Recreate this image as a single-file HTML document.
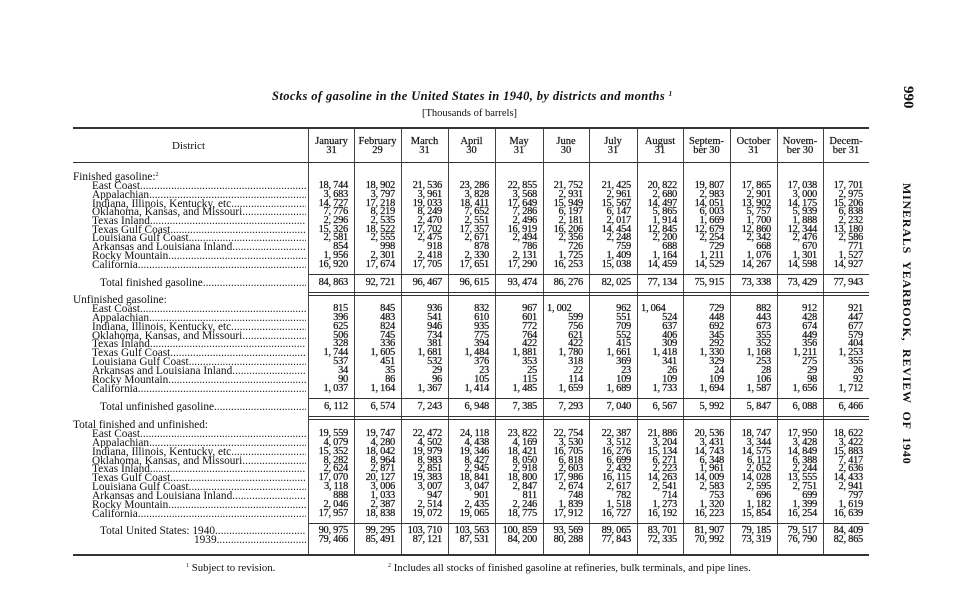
<!DOCTYPE html>
<html><head><meta charset="utf-8"><style>
body{margin:0;width:956px;height:600px;background:#fff;position:relative;overflow:hidden;font-family:"Liberation Serif",serif;color:#111;font-size:10px}
.a{position:absolute;white-space:nowrap}
sup{line-height:0;vertical-align:0;position:relative;top:-4px}
.r{position:absolute;left:309px;height:10px;line-height:10px;display:grid;grid-template-columns:45px 47px 47px 47px 48px 46px 48px 46px 47px 47px 46px 46px;font-size:10.5px;letter-spacing:-0.3px;-webkit-text-stroke:0.2px #111}
.r i{font-style:normal;text-align:right;padding-right:6px}
.lb{position:absolute;left:92px;width:214px;overflow:hidden;white-space:nowrap;height:10px;line-height:10px;font-size:11.3px;letter-spacing:0px}
.h{position:absolute;left:73px;height:10px;line-height:10px;font-size:11.3px}
.v{position:absolute;width:1px;background:#444}
.hl{position:absolute;left:73px;width:796px;background:#333}
.ch{position:absolute;top:137px;text-align:center;font-size:10.5px;line-height:9px;-webkit-text-stroke:0.2px #111}
</style></head><body>
<div class="a" style="left:272px;top:89px;font-style:italic;font-weight:bold;font-size:12.5px;letter-spacing:0.4px">Stocks of gasoline in the United States in 1940, by districts and months <sup style="font-size:7px">1</sup></div>
<div class="a" style="left:422px;top:108px;font-size:10.5px">[Thousands of barrels]</div>
<div class="a" style="top:86px;font-size:15px;font-weight:bold;transform:rotate(90deg);transform-origin:left top;left:916px">990</div>
<div class="a" style="left:914px;top:183px;font-size:12px;font-weight:bold;letter-spacing:0.8px;transform:rotate(90deg);transform-origin:left top">MINERALS&nbsp; YEARBOOK,&nbsp; REVIEW&nbsp; OF&nbsp; 1940</div>
<div class="hl" style="top:127px;height:2px"></div>
<div class="hl" style="top:162px;height:1px"></div>
<div class="hl" style="top:554px;height:2px"></div>
<div class="v" style="left:308px;top:129px;height:425px"></div>
<div class="v" style="left:354px;top:129px;height:425px"></div>
<div class="v" style="left:401px;top:129px;height:425px"></div>
<div class="v" style="left:448px;top:129px;height:425px"></div>
<div class="v" style="left:495px;top:129px;height:425px"></div>
<div class="v" style="left:543px;top:129px;height:425px"></div>
<div class="v" style="left:589px;top:129px;height:425px"></div>
<div class="v" style="left:637px;top:129px;height:425px"></div>
<div class="v" style="left:683px;top:129px;height:425px"></div>
<div class="v" style="left:730px;top:129px;height:425px"></div>
<div class="v" style="left:777px;top:129px;height:425px"></div>
<div class="v" style="left:823px;top:129px;height:425px"></div>
<div class="hl" style="left:309px;width:560px;top:274px;height:1px"></div>
<div class="hl" style="left:309px;width:560px;top:292px;height:1px"></div>
<div class="hl" style="left:309px;width:560px;top:295px;height:1px"></div>
<div class="hl" style="left:309px;width:560px;top:398px;height:1px"></div>
<div class="hl" style="left:309px;width:560px;top:416px;height:1px"></div>
<div class="hl" style="left:309px;width:560px;top:419px;height:1px"></div>
<div class="hl" style="left:309px;width:560px;top:523px;height:1px"></div>
<div class="a" style="left:172px;top:140px;font-size:11px">District</div>
<div class="ch" style="left:309px;width:45px">January<br>31</div>
<div class="ch" style="left:354px;width:47px">February<br>29</div>
<div class="ch" style="left:401px;width:47px">March<br>31</div>
<div class="ch" style="left:448px;width:47px">April<br>30</div>
<div class="ch" style="left:495px;width:48px">May<br>31</div>
<div class="ch" style="left:543px;width:46px">June<br>30</div>
<div class="ch" style="left:589px;width:48px">July<br>31</div>
<div class="ch" style="left:637px;width:46px">August<br>31</div>
<div class="ch" style="left:683px;width:47px">Septem-<br>ber 30</div>
<div class="ch" style="left:730px;width:47px">October<br>31</div>
<div class="ch" style="left:777px;width:46px">Novem-<br>ber 30</div>
<div class="ch" style="left:823px;width:46px">Decem-<br>ber 31</div>

<div class="h" style="top:172px">Finished gasoline:<sup style="font-size:6px">2</sup></div>
<div class="lb" style="top:181px">East Coast......................................................................................................</div>
<div class="r" style="top:181px"><i>18, 744</i><i>18, 902</i><i>21, 536</i><i>23, 286</i><i>22, 855</i><i>21, 752</i><i>21, 425</i><i>20, 822</i><i>19, 807</i><i>17, 865</i><i>17, 038</i><i>17, 701</i></div>
<div class="lb" style="top:190px">Appalachian......................................................................................................</div>
<div class="r" style="top:190px"><i>3, 683</i><i>3, 797</i><i>3, 961</i><i>3, 828</i><i>3, 568</i><i>2, 931</i><i>2, 961</i><i>2, 680</i><i>2, 983</i><i>2, 901</i><i>3, 000</i><i>2, 975</i></div>
<div class="lb" style="top:199px">Indiana, Illinois, Kentucky, etc......................................................................................................</div>
<div class="r" style="top:199px"><i>14, 727</i><i>17, 218</i><i>19, 033</i><i>18, 411</i><i>17, 649</i><i>15, 949</i><i>15, 567</i><i>14, 497</i><i>14, 051</i><i>13, 902</i><i>14, 175</i><i>15, 206</i></div>
<div class="lb" style="top:207px">Oklahoma, Kansas, and Missouri......................................................................................................</div>
<div class="r" style="top:207px"><i>7, 776</i><i>8, 219</i><i>8, 249</i><i>7, 652</i><i>7, 286</i><i>6, 197</i><i>6, 147</i><i>5, 865</i><i>6, 003</i><i>5, 757</i><i>5, 939</i><i>6, 838</i></div>
<div class="lb" style="top:216px">Texas Inland......................................................................................................</div>
<div class="r" style="top:216px"><i>2, 296</i><i>2, 535</i><i>2, 470</i><i>2, 551</i><i>2, 496</i><i>2, 181</i><i>2, 017</i><i>1, 914</i><i>1, 669</i><i>1, 700</i><i>1, 888</i><i>2, 232</i></div>
<div class="lb" style="top:225px">Texas Gulf Coast......................................................................................................</div>
<div class="r" style="top:225px"><i>15, 326</i><i>18, 522</i><i>17, 702</i><i>17, 357</i><i>16, 919</i><i>16, 206</i><i>14, 454</i><i>12, 845</i><i>12, 679</i><i>12, 860</i><i>12, 344</i><i>13, 180</i></div>
<div class="lb" style="top:233px">Louisiana Gulf Coast......................................................................................................</div>
<div class="r" style="top:233px"><i>2, 581</i><i>2, 555</i><i>2, 475</i><i>2, 671</i><i>2, 494</i><i>2, 356</i><i>2, 248</i><i>2, 200</i><i>2, 254</i><i>2, 342</i><i>2, 476</i><i>2, 586</i></div>
<div class="lb" style="top:242px">Arkansas and Louisiana Inland......................................................................................................</div>
<div class="r" style="top:242px"><i>854</i><i>998</i><i>918</i><i>878</i><i>786</i><i>726</i><i>759</i><i>688</i><i>729</i><i>668</i><i>670</i><i>771</i></div>
<div class="lb" style="top:251px">Rocky Mountain......................................................................................................</div>
<div class="r" style="top:251px"><i>1, 956</i><i>2, 301</i><i>2, 418</i><i>2, 330</i><i>2, 131</i><i>1, 725</i><i>1, 409</i><i>1, 164</i><i>1, 211</i><i>1, 076</i><i>1, 301</i><i>1, 527</i></div>
<div class="lb" style="top:260px">California......................................................................................................</div>
<div class="r" style="top:260px"><i>16, 920</i><i>17, 674</i><i>17, 705</i><i>17, 651</i><i>17, 290</i><i>16, 253</i><i>15, 038</i><i>14, 459</i><i>14, 529</i><i>14, 267</i><i>14, 598</i><i>14, 927</i></div>
<div class="lb" style="top:278px;left:100px;width:206px">Total finished gasoline......................................................................................................</div>
<div class="r" style="top:278px"><i>84, 863</i><i>92, 721</i><i>96, 467</i><i>96, 615</i><i>93, 474</i><i>86, 276</i><i>82, 025</i><i>77, 134</i><i>75, 915</i><i>73, 338</i><i>73, 429</i><i>77, 943</i></div>

<div class="h" style="top:295px">Unfinished gasoline:</div>
<div class="lb" style="top:304px">East Coast......................................................................................................</div>
<div class="r" style="top:304px"><i>815</i><i>845</i><i>936</i><i>832</i><i>967</i><i style="text-align:left;padding-left:4px">1, 002</i><i>962</i><i style="text-align:left;padding-left:4px">1, 064</i><i>729</i><i>882</i><i>912</i><i>921</i></div>
<div class="lb" style="top:313px">Appalachian......................................................................................................</div>
<div class="r" style="top:313px"><i>396</i><i>483</i><i>541</i><i>610</i><i>601</i><i>599</i><i>551</i><i>524</i><i>448</i><i>443</i><i>428</i><i>447</i></div>
<div class="lb" style="top:322px">Indiana, Illinois, Kentucky, etc......................................................................................................</div>
<div class="r" style="top:322px"><i>625</i><i>824</i><i>946</i><i>935</i><i>772</i><i>756</i><i>709</i><i>637</i><i>692</i><i>673</i><i>674</i><i>677</i></div>
<div class="lb" style="top:331px">Oklahoma, Kansas, and Missouri......................................................................................................</div>
<div class="r" style="top:331px"><i>506</i><i>745</i><i>734</i><i>775</i><i>764</i><i>621</i><i>552</i><i>406</i><i>345</i><i>355</i><i>449</i><i>579</i></div>
<div class="lb" style="top:339px">Texas Inland......................................................................................................</div>
<div class="r" style="top:339px"><i>328</i><i>336</i><i>381</i><i>394</i><i>422</i><i>422</i><i>415</i><i>309</i><i>292</i><i>352</i><i>356</i><i>404</i></div>
<div class="lb" style="top:348px">Texas Gulf Coast......................................................................................................</div>
<div class="r" style="top:348px"><i>1, 744</i><i>1, 605</i><i>1, 681</i><i>1, 484</i><i>1, 881</i><i>1, 780</i><i>1, 661</i><i>1, 418</i><i>1, 330</i><i>1, 168</i><i>1, 211</i><i>1, 253</i></div>
<div class="lb" style="top:357px">Louisiana Gulf Coast......................................................................................................</div>
<div class="r" style="top:357px"><i>537</i><i>451</i><i>532</i><i>376</i><i>353</i><i>318</i><i>369</i><i>341</i><i>329</i><i>253</i><i>275</i><i>355</i></div>
<div class="lb" style="top:366px">Arkansas and Louisiana Inland......................................................................................................</div>
<div class="r" style="top:366px"><i>34</i><i>35</i><i>29</i><i>23</i><i>25</i><i>22</i><i>23</i><i>26</i><i>24</i><i>28</i><i>29</i><i>26</i></div>
<div class="lb" style="top:375px">Rocky Mountain......................................................................................................</div>
<div class="r" style="top:375px"><i>90</i><i>86</i><i>96</i><i>105</i><i>115</i><i>114</i><i>109</i><i>109</i><i>109</i><i>106</i><i>98</i><i>92</i></div>
<div class="lb" style="top:384px">California......................................................................................................</div>
<div class="r" style="top:384px"><i>1, 037</i><i>1, 164</i><i>1, 367</i><i>1, 414</i><i>1, 485</i><i>1, 659</i><i>1, 689</i><i>1, 733</i><i>1, 694</i><i>1, 587</i><i>1, 656</i><i>1, 712</i></div>
<div class="lb" style="top:402px;left:100px;width:206px">Total unfinished gasoline......................................................................................................</div>
<div class="r" style="top:402px"><i>6, 112</i><i>6, 574</i><i>7, 243</i><i>6, 948</i><i>7, 385</i><i>7, 293</i><i>7, 040</i><i>6, 567</i><i>5, 992</i><i>5, 847</i><i>6, 088</i><i>6, 466</i></div>

<div class="h" style="top:420px">Total finished and unfinished:</div>
<div class="lb" style="top:429px">East Coast......................................................................................................</div>
<div class="r" style="top:429px"><i>19, 559</i><i>19, 747</i><i>22, 472</i><i>24, 118</i><i>23, 822</i><i>22, 754</i><i>22, 387</i><i>21, 886</i><i>20, 536</i><i>18, 747</i><i>17, 950</i><i>18, 622</i></div>
<div class="lb" style="top:438px">Appalachian......................................................................................................</div>
<div class="r" style="top:438px"><i>4, 079</i><i>4, 280</i><i>4, 502</i><i>4, 438</i><i>4, 169</i><i>3, 530</i><i>3, 512</i><i>3, 204</i><i>3, 431</i><i>3, 344</i><i>3, 428</i><i>3, 422</i></div>
<div class="lb" style="top:447px">Indiana, Illinois, Kentucky, etc......................................................................................................</div>
<div class="r" style="top:447px"><i>15, 352</i><i>18, 042</i><i>19, 979</i><i>19, 346</i><i>18, 421</i><i>16, 705</i><i>16, 276</i><i>15, 134</i><i>14, 743</i><i>14, 575</i><i>14, 849</i><i>15, 883</i></div>
<div class="lb" style="top:456px">Oklahoma, Kansas, and Missouri......................................................................................................</div>
<div class="r" style="top:456px"><i>8, 282</i><i>8, 964</i><i>8, 983</i><i>8, 427</i><i>8, 050</i><i>6, 818</i><i>6, 699</i><i>6, 271</i><i>6, 348</i><i>6, 112</i><i>6, 388</i><i>7, 417</i></div>
<div class="lb" style="top:464px">Texas Inland......................................................................................................</div>
<div class="r" style="top:464px"><i>2, 624</i><i>2, 871</i><i>2, 851</i><i>2, 945</i><i>2, 918</i><i>2, 603</i><i>2, 432</i><i>2, 223</i><i>1, 961</i><i>2, 052</i><i>2, 244</i><i>2, 636</i></div>
<div class="lb" style="top:473px">Texas Gulf Coast......................................................................................................</div>
<div class="r" style="top:473px"><i>17, 070</i><i>20, 127</i><i>19, 383</i><i>18, 841</i><i>18, 800</i><i>17, 986</i><i>16, 115</i><i>14, 263</i><i>14, 009</i><i>14, 028</i><i>13, 555</i><i>14, 433</i></div>
<div class="lb" style="top:482px">Louisiana Gulf Coast......................................................................................................</div>
<div class="r" style="top:482px"><i>3, 118</i><i>3, 006</i><i>3, 007</i><i>3, 047</i><i>2, 847</i><i>2, 674</i><i>2, 617</i><i>2, 541</i><i>2, 583</i><i>2, 595</i><i>2, 751</i><i>2, 941</i></div>
<div class="lb" style="top:491px">Arkansas and Louisiana Inland......................................................................................................</div>
<div class="r" style="top:491px"><i>888</i><i>1, 033</i><i>947</i><i>901</i><i>811</i><i>748</i><i>782</i><i>714</i><i>753</i><i>696</i><i>699</i><i>797</i></div>
<div class="lb" style="top:500px">Rocky Mountain......................................................................................................</div>
<div class="r" style="top:500px"><i>2, 046</i><i>2, 387</i><i>2, 514</i><i>2, 435</i><i>2, 246</i><i>1, 839</i><i>1, 518</i><i>1, 273</i><i>1, 320</i><i>1, 182</i><i>1, 399</i><i>1, 619</i></div>
<div class="lb" style="top:509px">California......................................................................................................</div>
<div class="r" style="top:509px"><i>17, 957</i><i>18, 838</i><i>19, 072</i><i>19, 065</i><i>18, 775</i><i>17, 912</i><i>16, 727</i><i>16, 192</i><i>16, 223</i><i>15, 854</i><i>16, 254</i><i>16, 639</i></div>
<div class="lb" style="top:526px;left:100px;width:206px">Total United States: 1940......................................................................................................</div>
<div class="r" style="top:526px"><i>90, 975</i><i>99, 295</i><i>103, 710</i><i>103, 563</i><i>100, 859</i><i>93, 569</i><i>89, 065</i><i>83, 701</i><i>81, 907</i><i>79, 185</i><i>79, 517</i><i>84, 409</i></div>
<div class="lb" style="top:535px;left:194px;width:112px">1939......................................................................................................</div>
<div class="r" style="top:535px"><i>79, 466</i><i>85, 491</i><i>87, 121</i><i>87, 531</i><i>84, 200</i><i>80, 288</i><i>77, 843</i><i>72, 335</i><i>70, 992</i><i>73, 319</i><i>76, 790</i><i>82, 865</i></div>

<div class="a" style="left:186px;top:562px;font-size:10.8px"><sup style="font-size:6px">1</sup> Subject to revision.</div>
<div class="a" style="left:388px;top:562px;font-size:10.8px"><sup style="font-size:6px">2</sup> Includes all stocks of finished gasoline at refineries, bulk terminals, and pipe lines.</div>
</body></html>
